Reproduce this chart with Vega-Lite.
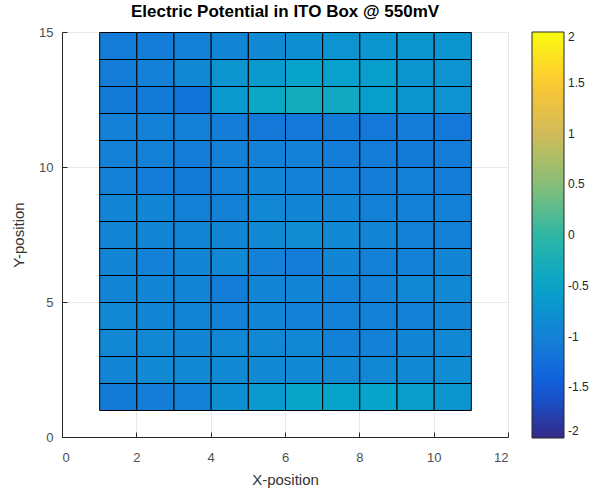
{
  "$schema": "https://vega.github.io/schema/vega-lite/v6.json",
  "autosize": "none",
  "width": 446,
  "height": 405,
  "padding": {"left": 62, "top": 32, "right": 95, "bottom": 54},
  "background": "white",
  "title": {"text": "Electric Potential in ITO Box @ 550mV", "font": "Liberation Sans", "fontSize": 17, "fontWeight": "bold", "color": "#000000", "anchor": "middle", "offset": 5},
  "config": {
    "view": {"stroke": "#dcdcdc", "strokeWidth": 1},
    "axis": {"zindex": 0, "labelFont": "Liberation Sans", "titleFont": "Liberation Sans", "labelFontSize": 13, "titleFontSize": 15, "titleFontWeight": "normal", "labelColor": "#4d4d4d", "titleColor": "#333333", "domainColor": "#262626", "tickColor": "#262626", "gridColor": "#e8e8e8", "grid": true, "tickSize": -5}
  },
  "data": {"values": [
    {"x":1,"y":14,"v":-1.05},{"x":2,"y":14,"v":-1.05},{"x":3,"y":14,"v":-1.0},{"x":4,"y":14,"v":-0.95},{"x":5,"y":14,"v":-0.88},{"x":6,"y":14,"v":-0.8},{"x":7,"y":14,"v":-0.75},{"x":8,"y":14,"v":-0.72},{"x":9,"y":14,"v":-0.68},{"x":10,"y":14,"v":-0.72},
    {"x":1,"y":13,"v":-1.05},{"x":2,"y":13,"v":-1.0},{"x":3,"y":13,"v":-0.9},{"x":4,"y":13,"v":-0.72},{"x":5,"y":13,"v":-0.65},{"x":6,"y":13,"v":-0.52},{"x":7,"y":13,"v":-0.55},{"x":8,"y":13,"v":-0.58},{"x":9,"y":13,"v":-0.7},{"x":10,"y":13,"v":-0.75},
    {"x":1,"y":12,"v":-1.08},{"x":2,"y":12,"v":-1.1},{"x":3,"y":12,"v":-1.18},{"x":4,"y":12,"v":-0.65},{"x":5,"y":12,"v":-0.42},{"x":6,"y":12,"v":-0.32},{"x":7,"y":12,"v":-0.38},{"x":8,"y":12,"v":-0.58},{"x":9,"y":12,"v":-0.7},{"x":10,"y":12,"v":-0.75},
    {"x":1,"y":11,"v":-1.02},{"x":2,"y":11,"v":-1.0},{"x":3,"y":11,"v":-1.02},{"x":4,"y":11,"v":-1.05},{"x":5,"y":11,"v":-1.12},{"x":6,"y":11,"v":-1.12},{"x":7,"y":11,"v":-1.08},{"x":8,"y":11,"v":-1.12},{"x":9,"y":11,"v":-1.05},{"x":10,"y":11,"v":-1.12},
    {"x":1,"y":10,"v":-1.02},{"x":2,"y":10,"v":-1.02},{"x":3,"y":10,"v":-1.05},{"x":4,"y":10,"v":-1.02},{"x":5,"y":10,"v":-1.02},{"x":6,"y":10,"v":-1.02},{"x":7,"y":10,"v":-1.05},{"x":8,"y":10,"v":-1.05},{"x":9,"y":10,"v":-1.1},{"x":10,"y":10,"v":-1.05},
    {"x":1,"y":9,"v":-1.02},{"x":2,"y":9,"v":-1.05},{"x":3,"y":9,"v":-1.08},{"x":4,"y":9,"v":-1.02},{"x":5,"y":9,"v":-0.95},{"x":6,"y":9,"v":-1.02},{"x":7,"y":9,"v":-1.02},{"x":8,"y":9,"v":-1.05},{"x":9,"y":9,"v":-1.02},{"x":10,"y":9,"v":-1.05},
    {"x":1,"y":8,"v":-0.95},{"x":2,"y":8,"v":-0.95},{"x":3,"y":8,"v":-0.98},{"x":4,"y":8,"v":-0.98},{"x":5,"y":8,"v":-0.92},{"x":6,"y":8,"v":-0.95},{"x":7,"y":8,"v":-0.95},{"x":8,"y":8,"v":-0.98},{"x":9,"y":8,"v":-0.98},{"x":10,"y":8,"v":-0.98},
    {"x":1,"y":7,"v":-0.95},{"x":2,"y":7,"v":-0.95},{"x":3,"y":7,"v":-0.95},{"x":4,"y":7,"v":-0.95},{"x":5,"y":7,"v":-0.88},{"x":6,"y":7,"v":-0.85},{"x":7,"y":7,"v":-0.88},{"x":8,"y":7,"v":-0.95},{"x":9,"y":7,"v":-0.98},{"x":10,"y":7,"v":-1.02},
    {"x":1,"y":6,"v":-0.95},{"x":2,"y":6,"v":-0.98},{"x":3,"y":6,"v":-0.95},{"x":4,"y":6,"v":-0.92},{"x":5,"y":6,"v":-1.02},{"x":6,"y":6,"v":-1.05},{"x":7,"y":6,"v":-0.95},{"x":8,"y":6,"v":-1.02},{"x":9,"y":6,"v":-0.98},{"x":10,"y":6,"v":-0.95},
    {"x":1,"y":5,"v":-0.95},{"x":2,"y":5,"v":-0.95},{"x":3,"y":5,"v":-0.95},{"x":4,"y":5,"v":-1.05},{"x":5,"y":5,"v":-0.95},{"x":6,"y":5,"v":-0.95},{"x":7,"y":5,"v":-0.98},{"x":8,"y":5,"v":-0.98},{"x":9,"y":5,"v":-0.92},{"x":10,"y":5,"v":-0.92},
    {"x":1,"y":4,"v":-0.92},{"x":2,"y":4,"v":-0.95},{"x":3,"y":4,"v":-0.95},{"x":4,"y":4,"v":-0.98},{"x":5,"y":4,"v":-0.95},{"x":6,"y":4,"v":-0.98},{"x":7,"y":4,"v":-0.98},{"x":8,"y":4,"v":-0.98},{"x":9,"y":4,"v":-0.98},{"x":10,"y":4,"v":-0.95},
    {"x":1,"y":3,"v":-0.92},{"x":2,"y":3,"v":-0.92},{"x":3,"y":3,"v":-0.95},{"x":4,"y":3,"v":-0.92},{"x":5,"y":3,"v":-0.92},{"x":6,"y":3,"v":-0.92},{"x":7,"y":3,"v":-0.98},{"x":8,"y":3,"v":-0.98},{"x":9,"y":3,"v":-0.95},{"x":10,"y":3,"v":-0.92},
    {"x":1,"y":2,"v":-0.95},{"x":2,"y":2,"v":-0.88},{"x":3,"y":2,"v":-0.88},{"x":4,"y":2,"v":-0.88},{"x":5,"y":2,"v":-0.88},{"x":6,"y":2,"v":-0.88},{"x":7,"y":2,"v":-0.92},{"x":8,"y":2,"v":-0.92},{"x":9,"y":2,"v":-0.88},{"x":10,"y":2,"v":-0.85},
    {"x":1,"y":1,"v":-1.1},{"x":2,"y":1,"v":-1.06},{"x":3,"y":1,"v":-0.98},{"x":4,"y":1,"v":-0.82},{"x":5,"y":1,"v":-0.65},{"x":6,"y":1,"v":-0.48},{"x":7,"y":1,"v":-0.52},{"x":8,"y":1,"v":-0.52},{"x":9,"y":1,"v":-0.6},{"x":10,"y":1,"v":-0.72}
  ]},
  "mark": {"type": "rect", "stroke": "#000000", "strokeWidth": 1, "binSpacing": 0},
  "encoding": {
    "x": {"field": "x", "type": "quantitative", "bin": {"binned": true, "step": 1},
      "scale": {"domain": [0, 12], "nice": false, "zero": false},
      "axis": {"values": [0,2,4,6,8,10,12], "title": "X-position", "labelPadding": 19, "titlePadding": 8}},
    "y": {"field": "y", "type": "quantitative", "bin": {"binned": true, "step": 1},
      "scale": {"domain": [0, 15], "nice": false, "zero": false},
      "axis": {"values": [0,5,10,15], "title": "Y-position", "labelPadding": 14, "titlePadding": 12}},
    "color": {"field": "v", "type": "quantitative",
      "scale": {"domain": [-2,-1.5,-1,-0.5,0,0.5,1,1.5,2], "range": ["#352a87","#0f5cdd","#1481d6","#06a4ca","#2eb7a4","#87bf77","#d1bb59","#fec832","#f9fb0e"], "interpolate": "rgb"},
      "legend": {"orient": "none", "legendX": 470, "legendY": 0, "title": null, "direction": "vertical", "gradientLength": 406, "gradientThickness": 32, "gradientStrokeColor": "#262626", "gradientStrokeWidth": 1, "values": [-2,-1.5,-1,-0.5,0,0.5,1,1.5,2], "labelExpr": "toString(datum.value)", "labelFont": "Liberation Sans", "labelFontSize": 12, "labelColor": "#262626", "labelOffset": 4, "tickCount": 9}
    }
  }
}
